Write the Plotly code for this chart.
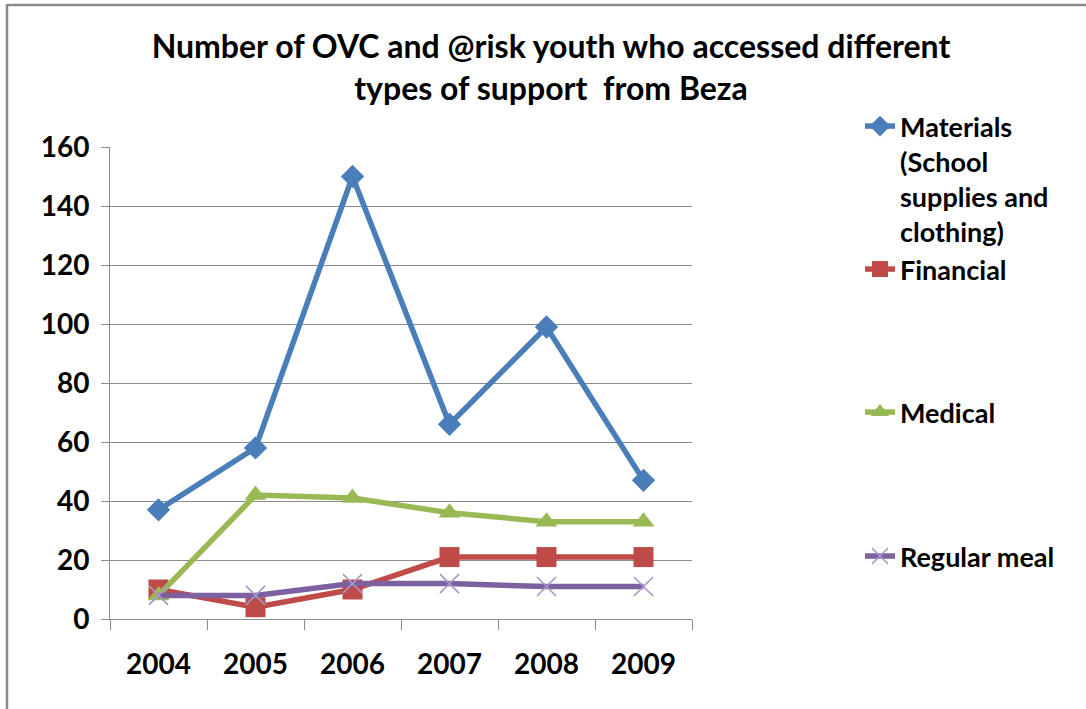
import plotly.graph_objects as go

# Chart data
years = ["2004", "2005", "2006", "2007", "2008", "2009"]
materials = [37, 58, 150, 66, 99, 47]
financial = [10, 4, 10, 21, 21, 21]
medical = [8, 42, 41, 36, 33, 33]
regular_meal = [8, 8, 12, 12, 11, 11]

series_names = [
    "Materials<br>(School<br>supplies and<br>clothing)",
    "Financial",
    "Medical",
    "Regular meal",
]
title_text = ("Number of OVC and @risk youth who accessed different"
              "<br>types of support  from Beza")
y_ticks = [0, 20, 40, 60, 80, 100, 120, 140, 160]

W, H = 1086, 709
L, R, T, B = 110, 394, 147, 90
PW, PH = W - L - R, H - T - B

FONT = "Lato"
TXT = "#000000"
GRID = "#8c8c8c"


def px_x(x):
    """Pixel column -> paper x."""
    return (x - L) / PW


def px_y(y):
    """Pixel row -> paper y."""
    return (H - B - y) / PH


fig = go.Figure()

styles = [
    dict(color="#4A7EBB", symbol="diamond", size=18, mcolor="#4A7EBB", mline=0),
    dict(color="#BE4B48", symbol="square", size=20, mcolor="#BE4B48", mline=0),
    dict(color="#98B954", symbol="triangle-up", size=19, mcolor="#98B954", mline=0),
    dict(color="#7D60A0", symbol="x-thin", size=19, mcolor="#A497CB", mline=1.6),
]
values = [materials, financial, medical, regular_meal]
legend_tops = [102, 245, 388, 532]

for i, (name, vals, st) in enumerate(zip(series_names, values, styles)):
    marker = dict(symbol=st["symbol"], size=st["size"], color=st["mcolor"])
    if st["symbol"] == "x-thin":
        marker["line"] = dict(color=st["mcolor"], width=st["mline"])
    fig.add_trace(go.Scatter(
        x=years, y=vals, name=name, mode="lines+markers",
        line=dict(color=st["color"], width=5.5),
        marker=marker,
        legend="legend" if i == 0 else f"legend{i + 1}",
        cliponaxis=False,
    ))

legend_common = dict(
    font=dict(family=FONT, size=27, color=TXT, weight="bold"),
    bgcolor="rgba(0,0,0,0)",
    xanchor="left", yanchor="top",
    valign="top",
    itemclick=False, itemdoubleclick=False,
)
layout_legends = {}
for i, top in enumerate(legend_tops):
    key = "legend" if i == 0 else f"legend{i + 1}"
    layout_legends[key] = dict(legend_common, x=px_x(860), y=px_y(top))

fig.update_layout(
    width=W, height=H,
    margin=dict(l=L, r=R, t=T, b=B, autoexpand=False),
    paper_bgcolor="white", plot_bgcolor="white",
    font=dict(family=FONT, color=TXT),
    showlegend=True,
    title=dict(
        text=title_text,
        font=dict(family=FONT, size=32, color=TXT, weight="bold"),
        x=551 / W, xanchor="center", xref="container",
        y=1 - 58 / H, yanchor="top", yref="container",
    ),
    xaxis=dict(
        type="category", range=[-0.5, 5.5],
        showgrid=False, showline=True, linecolor=GRID, linewidth=1,
        ticks="outside", ticklen=10, tickcolor=GRID, tickwidth=1,
        tickson="boundaries",
        tickfont=dict(family=FONT, size=28, color=TXT, weight="bold"),
        ticklabelstandoff=20,
        fixedrange=True,
    ),
    yaxis=dict(
        range=[0, 160], tickvals=y_ticks,
        showgrid=True, gridcolor=GRID, gridwidth=1,
        showline=True, linecolor=GRID, linewidth=1,
        ticks="outside", ticklen=8, tickcolor=GRID, tickwidth=1,
        tickfont=dict(family=FONT, size=28, color=TXT, weight="bold"),
        ticklabelstandoff=6,
        zeroline=False, fixedrange=True,
    ),
    shapes=[
        dict(type="line", xref="paper", yref="paper",
             x0=px_x(7), x1=px_x(W + 2), y0=px_y(5), y1=px_y(5),
             line=dict(color="#8a8a8a", width=2.5)),
        dict(type="line", xref="paper", yref="paper",
             x0=px_x(7), x1=px_x(7), y0=px_y(4), y1=px_y(H + 2),
             line=dict(color="#8a8a8a", width=2.5)),
    ],
    **layout_legends,
)

fig.write_html("out.html", config={"displayModeBar": False})
